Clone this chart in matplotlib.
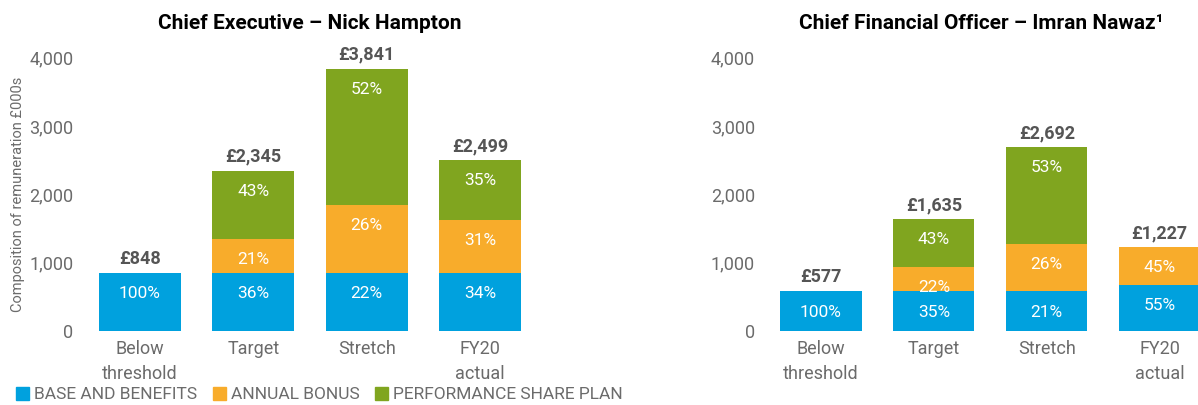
import matplotlib
matplotlib.use('Agg')
import matplotlib.pyplot as plt
from matplotlib.patches import Patch

plt.rcParams['font.family'] = ['Roboto', 'DejaVu Sans']

categories = ['Below\nthreshold', 'Target', 'Stretch', 'FY20\nactual']
series_names = ['BASE AND BENEFITS', 'ANNUAL BONUS', 'PERFORMANCE SHARE PLAN']
colors = ['#00a1de', '#f8ac2b', '#80a51f']

ceo_base = [848, 848, 848, 848]
ceo_bonus = [0, 497, 1000, 776]
ceo_psp = [0, 1000, 1993, 875]
ceo_totals = ['£848', '£2,345', '£3,841', '£2,499']
ceo_pct_base = ['100%', '36%', '22%', '34%']
ceo_pct_bonus = ['', '21%', '26%', '31%']
ceo_pct_psp = ['', '43%', '52%', '35%']

cfo_base = [577, 577, 577, 675]
cfo_bonus = [0, 360, 700, 552]
cfo_psp = [0, 698, 1415, 0]
cfo_totals = ['£577', '£1,635', '£2,692', '£1,227']
cfo_pct_base = ['100%', '35%', '21%', '55%']
cfo_pct_bonus = ['', '22%', '26%', '45%']
cfo_pct_psp = ['', '43%', '53%', '']

yticks = [0, 1000, 2000, 3000, 4000]
ytick_labels = ['0', '1,000', '2,000', '3,000', '4,000']

W, H = 1198, 405
fig = plt.figure(figsize=(W / 100, H / 100), dpi=100)

grey = '#6b6b6b'


def panel(ax, title, base, bonus, psp, totals, pb, pbo, pp, xlim):
    x = range(len(categories))
    bottoms = [0] * len(categories)
    for vals, col, labs in [(base, colors[0], pb), (bonus, colors[1], pbo), (psp, colors[2], pp)]:
        bars = ax.bar(x, vals, bottom=bottoms, width=0.72, color=col, linewidth=0)
        for rect, lab in zip(bars, labs):
            if lab:
                ax.annotate(lab, (rect.get_x() + rect.get_width() / 2, rect.get_y() + rect.get_height()),
                            xytext=(0, -15), textcoords='offset points', ha='center', va='center',
                            color='white', fontsize=12.5)
        bottoms = [b + v for b, v in zip(bottoms, vals)]
    for xi, top, lab in zip(x, bottoms, totals):
        ax.annotate(lab, (xi, top), xytext=(0, 10), textcoords='offset points', ha='center',
                    va='center', color='#555555', fontsize=13, fontweight='bold',
                    annotation_clip=False)
    ax.set_ylim(0, 4000)
    ax.set_xlim(*xlim)
    ax.set_yticks(yticks)
    ax.set_yticklabels(ytick_labels)
    ax.set_xticks(list(x))
    ax.set_xticklabels(categories, linespacing=1.5)
    ax.tick_params(length=0, colors=grey, labelsize=13)
    ax.tick_params(axis='y', pad=7)
    ax.tick_params(axis='x', pad=7)
    for s in ax.spines.values():
        s.set_visible(False)
    ax.set_title(title, fontsize=15, fontweight='bold', color='black', pad=21)


bottom = (H - 330.7) / H
height = 273 / H
ax1 = fig.add_axes([83 / W, bottom, 454 / W, height])
panel(ax1, 'Chief Executive – Nick Hampton', ceo_base, ceo_bonus, ceo_psp, ceo_totals,
      ceo_pct_base, ceo_pct_bonus, ceo_pct_psp, (-0.5, 3.5))
ax1.set_ylabel('Composition of remuneration £000s', color=grey, fontsize=10.5, labelpad=3)

ax2 = fig.add_axes([764.5 / W, bottom, (W - 764.5) / W, height])
panel(ax2, 'Chief Financial Officer – Imran Nawaz¹', cfo_base, cfo_bonus, cfo_psp, cfo_totals,
      cfo_pct_base, cfo_pct_bonus, cfo_pct_psp, (-0.5, 3.34))

handles = [Patch(color=c) for c in colors]
fig.legend(handles, series_names, loc='lower left', bbox_to_anchor=(0.0, -0.032), ncol=3,
           frameon=False, handlelength=0.75, handleheight=0.75, handletextpad=0.3,
           columnspacing=0.9, labelcolor=grey, prop={'size': 12.5})

fig.savefig('out.png', dpi=100)
